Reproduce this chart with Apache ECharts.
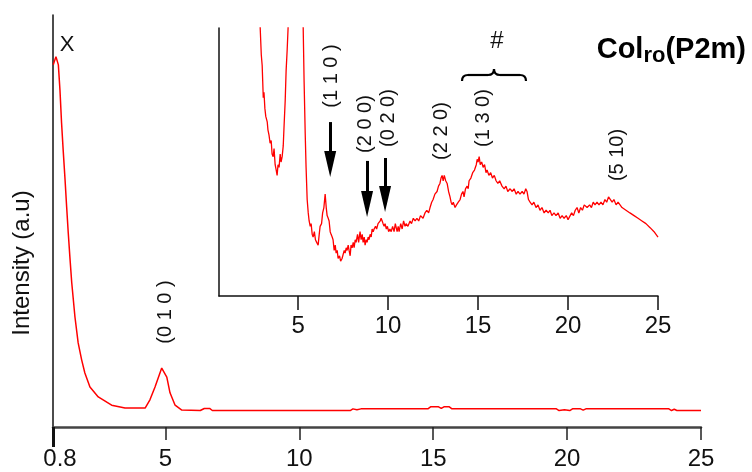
<!DOCTYPE html>
<html>
<head>
<meta charset="utf-8">
<script src="https://cdn.jsdelivr.net/npm/echarts@6/dist/echarts.min.js"></script>
<style>
html, body { margin: 0; padding: 0; background: #fff; }
#chart { width: 752px; height: 472px; }
</style>
</head>
<body>
<div id="chart"></div>
<script>
// main pattern, 2theta (deg) / intensity (a.u.)
var mainTwoTheta = [0.81, 0.91, 1.0, 1.06, 1.12, 1.18, 1.25, 1.31, 1.37, 1.43, 1.50, 1.62, 1.74, 1.87, 1.99, 2.18, 2.49, 2.99, 3.49, 4.24, 4.42, 4.61, 4.86, 5.05, 5.17, 5.36, 5.61, 6.3, 6.45, 6.65, 6.75, 11.9, 12.0, 12.15, 12.3, 14.8, 14.9, 15.2, 15.3, 15.4, 15.6, 15.7, 19.6, 19.7, 19.9, 20.1, 20.2, 20.5, 20.6, 20.7, 23.8, 23.9, 24.0, 24.1, 25.0];
var mainIntensity = [87.9, 89.9, 87.9, 81.8, 73.8, 67.2, 60.0, 53.4, 47.1, 41.3, 35.0, 26.7, 20.4, 16.3, 13.1, 9.7, 7.3, 5.3, 4.6, 4.6, 6.6, 9.7, 14.3, 12.1, 8.3, 5.3, 4.1, 4.0, 4.5, 4.5, 4.0, 4.0, 4.4, 4.2, 4.4, 4.4, 4.9, 4.9, 4.5, 4.9, 4.9, 4.4, 4.4, 4.0, 4.2, 4.0, 4.4, 4.4, 4.1, 4.4, 4.4, 4.0, 4.3, 4.0, 4.0];

// inset (magnified)
var insetTwoTheta = [2.8, 2.89, 2.95, 3.0, 3.03, 3.06, 3.1, 3.15, 3.2, 3.28, 3.32, 3.38, 3.44, 3.5, 3.55, 3.61, 3.66, 3.72, 3.78, 3.83, 3.88, 3.94, 4.0, 4.05, 4.11, 4.17, 4.22, 4.28, 4.33, 4.39, 4.44, 4.6, 4.85, 5.1, 5.28, 5.33, 5.39, 5.44, 5.5, 5.56, 5.61, 5.67, 5.72, 5.78, 5.83, 5.9, 5.96, 6.03, 6.11, 6.17, 6.22, 6.3, 6.36, 6.43, 6.5, 6.56, 6.61, 6.67, 6.72, 6.78, 6.83, 6.89, 6.94, 7.0, 7.06, 7.11, 7.17, 7.22, 7.3, 7.36, 7.44, 7.5, 7.56, 7.61, 7.67, 7.72, 7.78, 7.83, 7.89, 7.94, 8.0, 8.06, 8.11, 8.17, 8.22, 8.3, 8.36, 8.44, 8.5, 8.56, 8.61, 8.67, 8.72, 8.78, 8.83, 8.89, 8.94, 9.0, 9.06, 9.11, 9.17, 9.22, 9.3, 9.36, 9.44, 9.5, 9.56, 9.61, 9.67, 9.72, 9.78, 9.83, 9.9, 9.96, 10.03, 10.1, 10.17, 10.25, 10.33, 10.4, 10.5, 10.56, 10.61, 10.7, 10.78, 10.86, 10.94, 11.0, 11.1, 11.22, 11.3, 11.4, 11.5, 11.6, 11.7, 11.8, 11.94, 12.05, 12.15, 12.25, 12.33, 12.42, 12.5, 12.6, 12.72, 12.8, 12.88, 12.94, 13.0, 13.06, 13.12, 13.2, 13.28, 13.36, 13.44, 13.5, 13.56, 13.62, 13.72, 13.8, 13.9, 14.0, 14.08, 14.16, 14.22, 14.3, 14.39, 14.45, 14.5, 14.6, 14.7, 14.8, 14.9, 14.95, 15.0, 15.06, 15.12, 15.2, 15.28, 15.36, 15.44, 15.5, 15.6, 15.7, 15.8, 15.9, 16.0, 16.1, 16.2, 16.33, 16.45, 16.55, 16.65, 16.78, 16.9, 17.0, 17.12, 17.22, 17.33, 17.45, 17.55, 17.65, 17.72, 17.8, 17.89, 18.0, 18.1, 18.22, 18.33, 18.44, 18.55, 18.67, 18.78, 18.9, 19.0, 19.1, 19.22, 19.33, 19.45, 19.56, 19.67, 19.78, 19.9, 20.0, 20.11, 20.2, 20.3, 20.4, 20.5, 20.6, 20.7, 20.8, 20.9, 21.06, 21.2, 21.3, 21.4, 21.5, 21.61, 21.72, 21.83, 21.94, 22.05, 22.15, 22.25, 22.33, 22.45, 22.55, 22.67, 22.78, 22.89, 23.0, 23.1, 23.22, 23.33, 23.44, 23.55, 23.67, 23.78, 23.89, 24.0, 24.11, 24.22, 24.33, 24.44, 24.56, 24.67, 24.78, 24.89, 25.0];
var insetIntensity = [120, 100, 90, 86, 80, 74, 76, 70, 67, 65, 62, 60, 57, 58, 53, 52, 55, 49, 47, 45, 49, 48, 53, 50, 52, 56, 64, 73, 84, 92, 100, 200, 320, 220, 100, 80, 61, 48, 36, 31, 28, 26, 27, 23, 22, 24, 21, 20, 19, 23, 26, 27, 31, 33, 38, 33, 30, 29, 28, 24, 23, 22, 21, 17, 19, 16, 17, 14, 15, 13, 14, 13.5, 17, 16, 18, 17, 19, 17, 15, 19, 18, 20, 18, 21, 20, 23, 20, 24, 21, 23, 20, 22, 19, 21, 20, 22, 21, 23, 22, 25, 24, 25, 26, 25, 27, 27, 28, 29, 28, 27, 26, 27, 25, 26, 24, 25, 24, 26, 24, 27, 24, 26, 24, 27, 25, 28, 26, 27, 26, 28, 27, 29, 28, 29, 28, 30, 29, 31, 32, 31, 33, 35, 36, 38, 39, 41, 42, 44, 45, 43, 45, 43, 42, 39, 37, 35, 34, 35, 33, 34, 35, 36, 38, 39, 37, 40, 41, 40, 43, 44, 46, 47, 49, 51, 50, 52, 49, 50, 48, 49, 46, 47, 45, 46, 44, 45, 43, 42, 43, 41, 40, 41, 39, 40, 39, 40, 38, 39, 38, 39, 38, 40, 39, 36, 35, 34, 35, 33, 34, 32, 33, 31, 32, 31, 32, 30, 31, 30, 31, 29, 30, 29, 30, 28.5, 29, 31, 30, 32, 33, 31, 33, 32, 34, 33, 34, 33, 35, 34, 35, 34, 35, 34, 36, 35, 37, 37, 35, 36, 34, 35, 34, 33, 33.5, 32, 32.5, 31, 31, 30, 30.5, 29, 29, 28, 28.5, 27, 26.5, 25.5, 25, 24, 23, 22];

var mainTicks = [0.8, 5, 10, 15, 20, 25];
var insetTicks = [5, 10, 15, 20, 25];

// arrows: [2theta, from, to]
var arrowX = [6.78, 8.83, 9.83];
var arrowFrom = [64.9, 50.4, 51.5];
var arrowTo = [49.3, 34.3, 36.2];

function zip(xs, ys) {
    var out = [];
    for (var i = 0; i < xs.length; i++) out.push([xs[i], ys[i]]);
    return out;
}

var arrowLines = [];
for (var i = 0; i < arrowX.length; i++) {
    arrowLines.push([{coord: [arrowX[i], arrowFrom[i]]}, {coord: [arrowX[i], arrowTo[i]]}]);
}

var fontSans = "'Liberation Sans', Arial, sans-serif";
var fontNarrow = "'Liberation Sans Narrow', 'Liberation Sans', Arial, sans-serif";

function vText(x, y, txt, size) {
    return {
        type: 'text', x: x, y: y, rotation: Math.PI / 2, silent: true,
        style: {
            text: txt, fontSize: size, fontFamily: fontSans, fill: '#111',
            align: 'center', verticalAlign: 'middle'
        }
    };
}

// brace pieces
var braceStyle = {fill: 'none', stroke: '#000', lineWidth: 2.2};
function curve(x1, y1, cx, cy, x2, y2) {
    return {type: 'bezierCurve', silent: true, shape: {x1: x1, y1: y1, cpx1: cx, cpy1: cy, x2: x2, y2: y2}, style: braceStyle};
}
function seg(x1, y1, x2, y2) {
    return {type: 'line', silent: true, shape: {x1: x1, y1: y1, x2: x2, y2: y2}, style: braceStyle};
}

var chart = echarts.init(document.getElementById('chart'));
chart.setOption({
    animation: false,
    grid: [
        {left: 53, top: 15, width: 648, height: 412},
        {left: 219, top: 28, width: 439, height: 268}
    ],
    xAxis: [
        {
            gridIndex: 0, type: 'value', min: 0.8, max: 25, position: 'bottom',
            axisLine: {show: true, onZero: false, lineStyle: {color: '#444', width: 2.5}},
            axisTick: {show: true, customValues: [5, 10, 15, 20, 25], length: 13, lineStyle: {color: '#222', width: 1.5}},
            axisLabel: {
                show: true, customValues: mainTicks, margin: 20, fontSize: 24, fontFamily: fontNarrow, color: '#111',
                // first label sits a bit right of its tick
                formatter: function (v) { return v === 0.8 ? '{f|0.8}' : String(v); },
                rich: {f: {fontSize: 24, fontFamily: fontNarrow, color: '#111', padding: [0, 0, 0, 14]}}
            },
            splitLine: {show: false}
        },
        {
            // longer tick at 0.8
            gridIndex: 0, type: 'value', min: 0.8, max: 25, position: 'bottom',
            axisLine: {show: false},
            axisTick: {show: true, customValues: [0.8], length: 20, lineStyle: {color: '#111', width: 3}},
            axisLabel: {show: false},
            splitLine: {show: false}
        },
        {
            gridIndex: 1, type: 'value', min: 0.6, max: 25, position: 'bottom',
            axisLine: {show: true, onZero: false, lineStyle: {color: '#111', width: 1.5}},
            axisTick: {show: true, customValues: insetTicks, length: 14, lineStyle: {color: '#111', width: 1.5}},
            axisLabel: {show: true, customValues: insetTicks, margin: 18, fontSize: 24, fontFamily: fontNarrow, color: '#111'},
            splitLine: {show: false}
        }
    ],
    yAxis: [
        {
            gridIndex: 0, type: 'value', min: 0, max: 100,
            axisLine: {show: true, onZero: false, lineStyle: {color: '#111', width: 1.5}},
            axisTick: {show: false}, axisLabel: {show: false}, splitLine: {show: false}
        },
        {
            gridIndex: 1, type: 'value', min: 0, max: 100,
            axisLine: {show: true, onZero: false, lineStyle: {color: '#111', width: 1.5}},
            axisTick: {show: false}, axisLabel: {show: false}, splitLine: {show: false}
        }
    ],
    series: [
        {
            type: 'line', xAxisIndex: 0, yAxisIndex: 0,
            data: zip(mainTwoTheta, mainIntensity),
            showSymbol: false, silent: true,
            lineStyle: {color: '#ff0000', width: 1.5}
        },
        {
            type: 'line', xAxisIndex: 2, yAxisIndex: 1,
            data: zip(insetTwoTheta, insetIntensity),
            showSymbol: false, silent: true, clip: true,
            lineStyle: {color: '#ff0000', width: 1.3},
            markLine: {
                silent: true,
                symbol: ['none', 'triangle'],
                symbolSize: [12, 26],
                label: {show: false},
                lineStyle: {color: '#000', width: 3, type: 'solid'},
                emphasis: {disabled: true},
                data: arrowLines
            }
        }
    ],
    graphic: [
        {
            type: 'text', x: 22, y: 263, rotation: Math.PI / 2, silent: true,
            style: {text: 'Intensity (a.u)', fontSize: 24, fontFamily: fontSans, fill: '#111', align: 'center', verticalAlign: 'middle'}
        },
        {
            type: 'text', x: 67, y: 45, silent: true,
            style: {text: 'X', fontSize: 22, fontFamily: fontSans, fill: '#111', align: 'center', verticalAlign: 'middle'}
        },
        vText(165, 312, '(0 1 0 )', 20),
        vText(331, 76, '(1 1 0 )', 20),
        vText(365, 124, '(2 0 0)', 20),
        vText(388, 118, '(0 2 0)', 20),
        vText(441, 131, '(2 2 0)', 20),
        vText(483, 118, '(1 3 0)', 20),
        vText(617, 155, '(5 10)', 20),
        {
            type: 'text', x: 497, y: 41, silent: true,
            style: {text: '#', fontSize: 24, fontFamily: fontSans, fill: '#111', align: 'center', verticalAlign: 'middle'}
        },
        curve(462, 81, 462, 75, 468, 75),
        seg(468, 75, 488, 75),
        curve(488, 75, 494, 75, 494, 69),
        curve(494, 69, 494, 75, 500, 75),
        seg(500, 75, 520, 75),
        curve(520, 75, 526, 75, 526, 81),
        {
            type: 'text', x: 746, y: 50, silent: true,
            style: {
                text: '{m|Col}{s|ro}{m|(P2m)}', fill: '#000', align: 'right', verticalAlign: 'middle',
                rich: {
                    m: {fontSize: 29, fontWeight: 'bold', fontFamily: fontSans, fill: '#000', lineHeight: 34},
                    s: {fontSize: 22, fontWeight: 'bold', fontFamily: fontSans, fill: '#000', lineHeight: 16, verticalAlign: 'bottom'}
                }
            }
        }
    ]
});
</script>
</body>
</html>
